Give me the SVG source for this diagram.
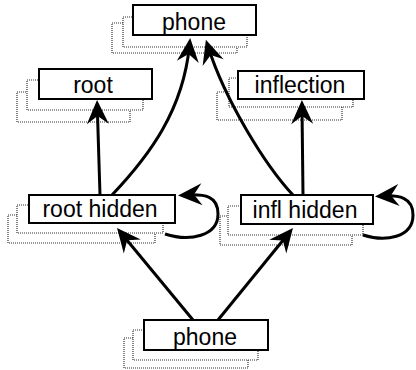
<svg xmlns="http://www.w3.org/2000/svg" width="416" height="370" viewBox="0 0 416 370">
<style>
.box{fill:#fff;stroke:#000;stroke-width:2}
.sh{fill:#fff;stroke:#333;stroke-width:1.2;stroke-dasharray:1 1}
.lbl{font-family:"Liberation Sans",Arial,sans-serif;font-size:23px;fill:#000;text-anchor:middle}
.edge{fill:none;stroke:#000;stroke-width:3;marker-end:url(#ah)}
</style>
<defs>
<marker id="ah" viewBox="-25 -12 26 24" refX="-8" refY="0" markerWidth="26" markerHeight="24" markerUnits="userSpaceOnUse" orient="auto">
<path d="M0,0 L-24,-11 L-16,0 L-24,11 Z" fill="#000"/>
</marker>
</defs>
<rect width="416" height="370" fill="#fff"/>
<g id="phone-top">
<rect class="sh" x="112" y="23" width="125" height="30"/>
<rect class="sh" x="123" y="17" width="124" height="30"/>
<rect class="box" x="133" y="5" width="123" height="30"/>
<text class="lbl" x="194" y="30">phone</text>
</g>
<g id="root">
<rect class="sh" x="17" y="92" width="113" height="30"/>
<rect class="sh" x="27" y="80" width="116" height="30"/>
<rect class="box" x="39" y="69" width="113" height="30"/>
<text class="lbl" x="93" y="93">root</text>
</g>
<g id="inflection">
<rect class="sh" x="217" y="92" width="125" height="28"/>
<rect class="sh" x="229" y="78" width="124" height="29"/>
<rect class="box" x="238" y="71" width="126" height="28"/>
<text class="lbl" x="300" y="93">inflection</text>
</g>
<g id="root-hidden">
<rect class="sh" x="8" y="215" width="147" height="28"/>
<rect class="sh" x="17" y="205" width="146" height="28"/>
<rect class="box" x="29" y="195" width="146" height="28"/>
<text class="lbl" x="100" y="217">root hidden</text>
</g>
<g id="infl-hidden">
<rect class="sh" x="220" y="216" width="132" height="29"/>
<rect class="sh" x="228" y="206" width="135" height="29"/>
<rect class="box" x="241" y="195" width="132" height="29"/>
<text class="lbl" x="305" y="218">infl hidden</text>
</g>
<g id="phone-bottom">
<rect class="sh" x="124" y="338" width="124" height="30"/>
<rect class="sh" x="133" y="330" width="125" height="30"/>
<rect class="box" x="144" y="320" width="124" height="30"/>
<text class="lbl" x="205" y="345">phone</text>
</g>
<g id="connectors">
<path class="edge" d="M100,195 L97.3,108"/>
<path class="edge" d="M112,195 C150,155 183,110 189.4,46"/>
<path class="edge" d="M293,195 C265,165 225,100 208.3,47.3"/>
<path class="edge" d="M303,195 L302,108"/>
<path class="edge" d="M193,320 L122.1,234.2"/>
<path class="edge" d="M218,320 L287.9,234.2"/>
<path class="edge" d="M165,234 C190,242 218,236 218,214 C218,196 205,194 186,195"/>
<path class="edge" d="M363,235 C385,242 413,238 413,215 C413,197 398,195 383,196"/>
</g>
</svg>
